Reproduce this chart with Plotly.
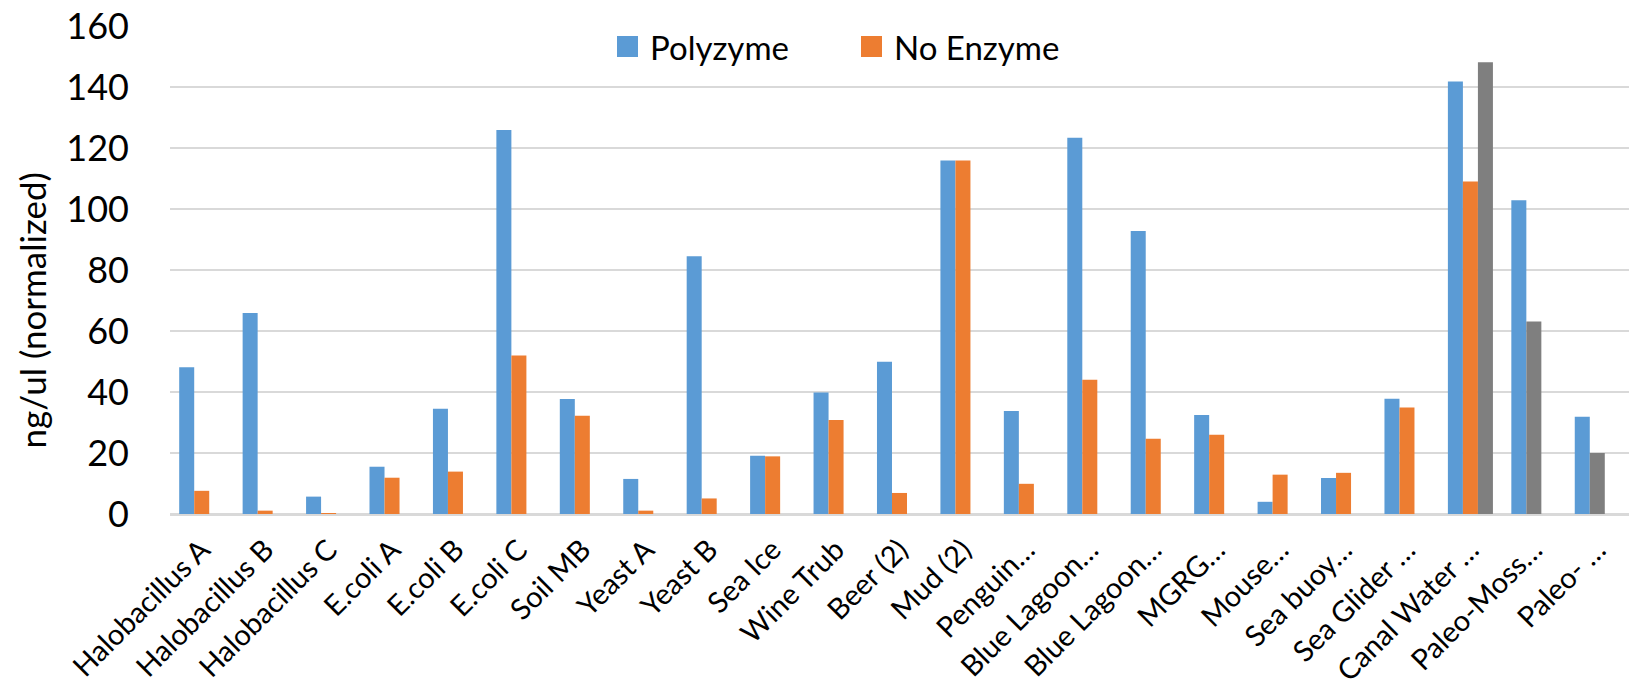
import plotly.graph_objects as go

# Sample names (truncated labels as they appear on the axis)
samples = [
    "Halobacillus A", "Halobacillus B", "Halobacillus C", "E.coli A", "E.coli B",
    "E.coli C", "Soil MB", "Yeast A", "Yeast B", "Sea Ice", "Wine Trub",
    "Beer (2)", "Mud (2)", "Penguin…", "Blue Lagoon…", "Blue Lagoon…", "MGRG…",
    "Mouse…", "Sea buoy…", "Sea Glider …", "Canal Water …", "Paleo-Moss…", "Paleo- …",
]

# DNA concentration, ng/ul (normalized)
polyzyme = [48.1, 65.9, 5.7, 15.5, 34.5, 125.9, 37.7, 11.5, 84.5, 19.1, 39.8,
            49.9, 115.9, 33.8, 123.4, 92.8, 32.5, 4.0, 11.8, 37.8, 141.8, 102.9, 31.9]
no_enzyme = [7.6, 1.1, 0.2, 11.9, 13.9, 52.0, 32.2, 1.1, 5.1, 18.9, 30.8,
             6.9, 115.9, 9.9, 44.0, 24.7, 26.0, 12.9, 13.5, 34.9, 109.0, 63.1, 20.0]
series3 = [None] * 20 + [148.1, None, None]

y_ticks = [0, 20, 40, 60, 80, 100, 120, 140, 160]

BLUE = "#5B9BD5"
ORANGE = "#ED7D31"
GRAY = "#7F7F7F"
FONT = "Lato, 'Open Sans', sans-serif"

x = list(range(len(samples)))
# the two Paleo samples' no-enzyme bars are shaded gray
no_enzyme_colors = [GRAY if s.startswith("Paleo") else ORANGE for s in samples]

fig = go.Figure()
fig.add_trace(go.Bar(x=x, y=polyzyme, name="Polyzyme",
                     marker=dict(color=BLUE, line=dict(width=0))))
fig.add_trace(go.Bar(x=x, y=no_enzyme, name="No Enzyme",
                     marker=dict(color=no_enzyme_colors, line=dict(width=0))))
fig.add_trace(go.Bar(x=x, y=series3, name="Series 3",
                     marker=dict(color=GRAY, line=dict(width=0))))

W, H = 1634, 692
L, R, T, B = 170, 5, 26, 178
pw, ph = W - L - R, H - T - B


def px_x(v):
    return (v - L) / pw


def px_y(v):
    return (H - B - v) / ph


# Legend drawn as square swatches with labels above the bars
legend_items = [("Polyzyme", BLUE, 617), ("No Enzyme", ORANGE, 861)]
shapes = []
annotations = []
for label, color, x0 in legend_items:
    shapes.append(dict(type="rect", xref="paper", yref="paper",
                       x0=px_x(x0), x1=px_x(x0 + 21), y0=px_y(57), y1=px_y(36),
                       fillcolor=color, line=dict(width=0), layer="above"))
    annotations.append(dict(text=label, xref="paper", yref="paper",
                            x=px_x(x0 + 31), y=px_y(46.5), xanchor="left",
                            yanchor="middle", showarrow=False,
                            font=dict(family=FONT, size=33, color="#000000")))

annotations.append(dict(text="ng/ul (normalized)", xref="paper", yref="paper",
                        x=px_x(31.5), y=px_y(311), xanchor="center",
                        yanchor="middle", textangle=-90, showarrow=False,
                        font=dict(family=FONT, size=35, color="#000000")))

fig.update_layout(
    width=W, height=H, autosize=False,
    margin=dict(l=L, r=R, t=T, b=B, pad=0),
    paper_bgcolor="white", plot_bgcolor="white",
    barmode="group", bargap=0.29, bargroupgap=0,
    showlegend=False,
    shapes=shapes, annotations=annotations,
    font=dict(family=FONT, color="#000000"),
)
fig.update_xaxes(
    range=[-0.5, len(samples) - 0.5],
    tickmode="array", tickvals=x, ticktext=samples,
    tickangle=-45, tickfont=dict(family=FONT, size=29, color="#000000"),
    showgrid=False, showline=False, ticks="", zeroline=False,
    ticklabelstandoff=12, automargin=False,
)
fig.update_yaxes(
    range=[0, 160], tickmode="array", tickvals=y_ticks,
    tickfont=dict(family=FONT, size=36, color="#000000"),
    showgrid=True, gridcolor="#D9D9D9", gridwidth=1.5,
    zeroline=True, zerolinecolor="#D9D9D9", zerolinewidth=2.5,
    showline=False, ticks="", ticklabelstandoff=40, automargin=False,
)

fig.write_html("out.html")
